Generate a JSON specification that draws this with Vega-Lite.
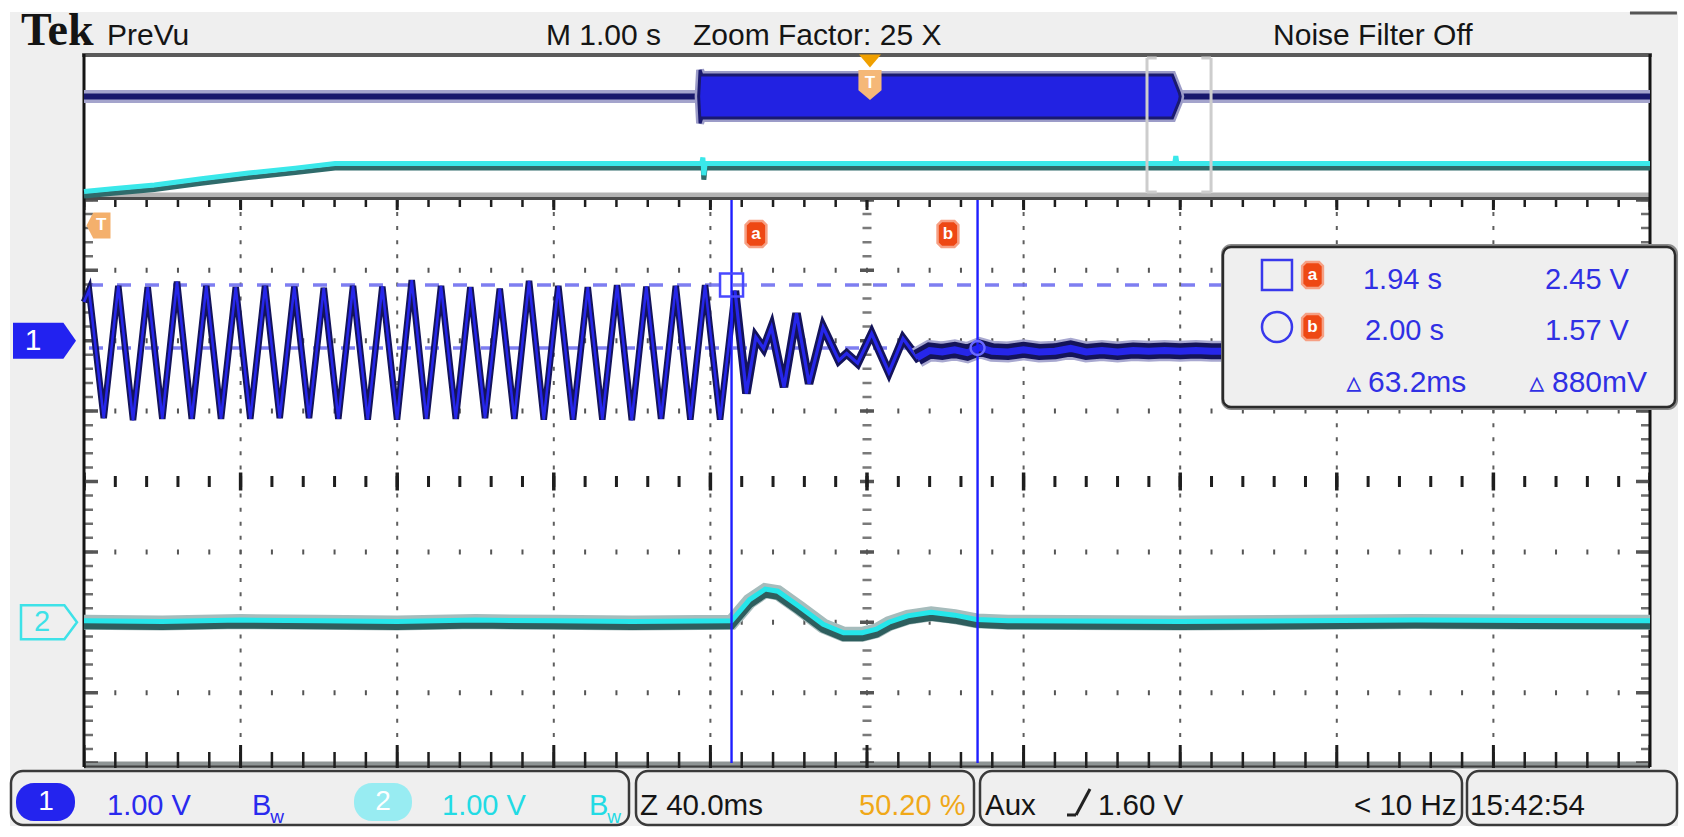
{
"$schema": "https://vega.github.io/schema/vega-lite/v6.json",
"width": 1684, "height": 837,
"autosize": {"type": "none"},
"padding": 0,
"background": "#ffffff",
"config": {"view": {"stroke": null}},
"datasets": {
"ch1": [
{"x":0.000,"y":2.55},
{"x":0.032,"y":2.72},{"x":0.126,"y":0.90},
{"x":0.219,"y":2.78},{"x":0.313,"y":0.87},
{"x":0.407,"y":2.76},{"x":0.500,"y":0.89},
{"x":0.594,"y":2.84},{"x":0.688,"y":0.89},
{"x":0.781,"y":2.78},{"x":0.875,"y":0.89},
{"x":0.969,"y":2.76},{"x":1.062,"y":0.89},
{"x":1.156,"y":2.78},{"x":1.250,"y":0.90},
{"x":1.343,"y":2.77},{"x":1.437,"y":0.90},
{"x":1.531,"y":2.75},{"x":1.624,"y":0.89},
{"x":1.718,"y":2.78},{"x":1.812,"y":0.88},
{"x":1.905,"y":2.77},{"x":1.999,"y":0.88},
{"x":2.093,"y":2.86},{"x":2.186,"y":0.89},
{"x":2.280,"y":2.78},{"x":2.374,"y":0.89},
{"x":2.467,"y":2.76},{"x":2.561,"y":0.90},
{"x":2.655,"y":2.74},{"x":2.748,"y":0.89},
{"x":2.842,"y":2.85},{"x":2.936,"y":0.88},
{"x":3.029,"y":2.78},{"x":3.123,"y":0.88},
{"x":3.217,"y":2.76},{"x":3.310,"y":0.88},
{"x":3.404,"y":2.79},{"x":3.498,"y":0.87},
{"x":3.591,"y":2.77},{"x":3.685,"y":0.89},
{"x":3.779,"y":2.78},{"x":3.872,"y":0.88},
{"x":3.966,"y":2.79},{"x":4.062,"y":0.88},
{"x":4.157,"y":2.71},
{"x":4.23,"y":1.25},{"x":4.29,"y":2.05},{"x":4.34,"y":1.89},{"x":4.39,"y":2.19},
{"x":4.47,"y":1.34},{"x":4.55,"y":2.39},{"x":4.63,"y":1.39},{"x":4.72,"y":2.19},
{"x":4.82,"y":1.72},{"x":4.87,"y":1.82},{"x":4.94,"y":1.68},{"x":5.03,"y":2.10},
{"x":5.14,"y":1.55},{"x":5.23,"y":2.03},{"x":5.32,"y":1.76},{"x":5.40,"y":1.86},
{"x":5.48,"y":1.84},{"x":5.56,"y":1.87},{"x":5.64,"y":1.83},{"x":5.72,"y":1.90},
{"x":5.80,"y":1.85},{"x":5.90,"y":1.84},{"x":6.00,"y":1.87},{"x":6.10,"y":1.84},
{"x":6.20,"y":1.85},{"x":6.30,"y":1.89},{"x":6.40,"y":1.84},{"x":6.50,"y":1.86},
{"x":6.60,"y":1.84},{"x":6.70,"y":1.86},{"x":6.80,"y":1.85},{"x":6.90,"y":1.86},
{"x":7.00,"y":1.85},{"x":7.10,"y":1.86},{"x":7.20,"y":1.85},{"x":7.30,"y":1.85},
{"x":8.00,"y":1.85},{"x":9.00,"y":1.85},{"x":10.0,"y":1.85}
],
"ch2": [
{"x":0,"y":-2.0},{"x":0.5,"y":-2.01},{"x":1.0,"y":-1.99},{"x":1.5,"y":-2.0},{"x":2.0,"y":-2.01},
{"x":2.5,"y":-1.99},{"x":3.0,"y":-2.0},{"x":3.5,"y":-2.01},{"x":4.135,"y":-2.0},
{"x":4.25,"y":-1.70},{"x":4.35,"y":-1.55},{"x":4.43,"y":-1.58},{"x":4.57,"y":-1.80},
{"x":4.72,"y":-2.05},{"x":4.85,"y":-2.17},{"x":4.97,"y":-2.17},{"x":5.06,"y":-2.12},
{"x":5.14,"y":-2.02},{"x":5.26,"y":-1.93},{"x":5.41,"y":-1.88},{"x":5.56,"y":-1.92},
{"x":5.70,"y":-1.98},{"x":5.90,"y":-2.0},{"x":7.0,"y":-2.01},{"x":8.5,"y":-1.99},{"x":10,"y":-2.0}
],
"ov2": [
{"x":0,"y":4.098},{"x":0.2,"y":4.14},{"x":0.45,"y":4.19},{"x":0.75,"y":4.28},{"x":1.05,"y":4.36},
{"x":1.35,"y":4.43},{"x":1.603,"y":4.496},{"x":3.945,"y":4.496},{"x":3.952,"y":4.58},{"x":3.958,"y":4.33},
{"x":3.966,"y":4.496},{"x":6.965,"y":4.496},{"x":6.972,"y":4.60},{"x":6.979,"y":4.496},{"x":10,"y":4.496}
],
"band": [
{"x":3.925,"y":5.469,"y2":5.469},{"x":3.934,"y":5.845,"y2":5.09},{"x":3.945,"y":5.774,"y2":5.163},
{"x":6.95,"y":5.774,"y2":5.163},{"x":6.995,"y":5.52,"y2":5.41},{"x":7.0,"y":5.469,"y2":5.469}
]
},
"encoding": {
"x": {"field": "x", "type": "quantitative", "scale": {"domain": [-0.5364, 10.21711], "nice": false, "zero": false}, "axis": null},
"y": {"field": "y", "type": "quantitative", "scale": {"domain": [-5.04972, 6.83949], "nice": false, "zero": false}, "axis": null}
},
"layer": [
{"data":{"values":[{"x":-0.4725,"x2":10.179,"y":6.669,"y2":-4.893}]},"mark":{"type":"rect","fill":"#efefef"},"encoding":{"x2":{"field":"x2"},"y2":{"field":"y2"}}},
{"data":{"values":[{"x":0,"x2":10,"y":6.058,"y2":-3.99}]},"mark":{"type":"rect","fill":"#ffffff"},"encoding":{"x2":{"field":"x2"},"y2":{"field":"y2"}}},
{"data":{"values":[{"x":0,"x2":10,"y":4.105,"y2":3.999}]},"mark":{"type":"rect","fill":"#b2b2b2"},"encoding":{"x2":{"field":"x2"},"y2":{"field":"y2"}}},
{"data":{"values":[{"x":0,"x2":10,"y":-3.977,"y2":-4.077}]},"mark":{"type":"rect","fill":"#8e9494"},"encoding":{"x2":{"field":"x2"},"y2":{"field":"y2"}}},
{"data":{"values":[{"x":-0.012,"x2":10.012,"y":6.058,"y2":6.058}]},"mark":{"type":"rule","color":"#5a5a5a","strokeWidth":4},"encoding":{"x2":{"field":"x2"},"y2":{"field":"y2"}}},
{"data":{"values":[{"x":0,"x2":10,"y":4.02,"y2":4.02}]},"mark":{"type":"rule","color":"#4a4a4a","strokeWidth":3},"encoding":{"x2":{"field":"x2"},"y2":{"field":"y2"}}},
{"data":{"values":[{"x":0,"x2":10,"y":-4.048,"y2":-4.048}]},"mark":{"type":"rule","color":"#3e3e3e","strokeWidth":2},"encoding":{"x2":{"field":"x2"},"y2":{"field":"y2"}}},
{"data":{"values":[{"x":1,"x2":1,"y":4,"y2":-4},{"x":2,"x2":2,"y":4,"y2":-4},{"x":3,"x2":3,"y":4,"y2":-4},{"x":4,"x2":4,"y":4,"y2":-4},{"x":6,"x2":6,"y":4,"y2":-4},{"x":7,"x2":7,"y":4,"y2":-4},{"x":8,"x2":8,"y":4,"y2":-4},{"x":9,"x2":9,"y":4,"y2":-4}]},"mark":{"type":"rule","color":"#5e5e5e","strokeWidth":2,"strokeDash":[4,10.08],"strokeDashOffset":2},"encoding":{"x2":{"field":"x2"},"y2":{"field":"y2"}}},
{"data":{"values":[{"x":5,"x2":5,"y":4,"y2":-4}]},"mark":{"type":"rule","color":"#7a7a7a","strokeWidth":9,"strokeDash":[2.5,11.58],"strokeDashOffset":1.25},"encoding":{"x2":{"field":"x2"},"y2":{"field":"y2"}}},
{"data":{"values":[{"x":5,"x2":5,"y":4,"y2":-4}]},"mark":{"type":"rule","color":"#555555","strokeWidth":14,"strokeDash":[3.5,66.9],"strokeDashOffset":1.75},"encoding":{"x2":{"field":"x2"},"y2":{"field":"y2"}}},
{"data":{"values":[{"x":0,"x2":10,"y":3,"y2":3},{"x":0,"x2":10,"y":2,"y2":2},{"x":0,"x2":10,"y":1,"y2":1},{"x":0,"x2":10,"y":-1,"y2":-1},{"x":0,"x2":10,"y":-2,"y2":-2},{"x":0,"x2":10,"y":-3,"y2":-3}]},"mark":{"type":"rule","color":"#555555","strokeWidth":5,"strokeDash":[2,29.32],"strokeDashOffset":1},"encoding":{"x2":{"field":"x2"},"y2":{"field":"y2"}}},
{"data":{"values":[{"x":0,"x2":10,"y":0,"y2":0}]},"mark":{"type":"rule","color":"#1e1e1e","strokeWidth":11,"strokeDash":[3,28.32],"strokeDashOffset":1.5},"encoding":{"x2":{"field":"x2"},"y2":{"field":"y2"}}},
{"data":{"values":[{"x":0,"x2":10,"y":0,"y2":0}]},"mark":{"type":"rule","color":"#1e1e1e","strokeWidth":18,"strokeDash":[3.5,153.1],"strokeDashOffset":1.75},"encoding":{"x2":{"field":"x2"},"y2":{"field":"y2"}}},
{"data":{"values":[{"x":0,"x2":10,"y":3.9489,"y2":3.9489}]},"mark":{"type":"rule","color":"#1e1e1e","strokeWidth":7,"strokeDash":[2.5,28.82],"strokeDashOffset":1.25},"encoding":{"x2":{"field":"x2"},"y2":{"field":"y2"}}},
{"data":{"values":[{"x":0,"x2":10,"y":3.9276,"y2":3.9276}]},"mark":{"type":"rule","color":"#1e1e1e","strokeWidth":10,"strokeDash":[3,153.6],"strokeDashOffset":1.5},"encoding":{"x2":{"field":"x2"},"y2":{"field":"y2"}}},
{"data":{"values":[{"x":0,"x2":10,"y":-3.956,"y2":-3.956}]},"mark":{"type":"rule","color":"#1e1e1e","strokeWidth":16,"strokeDash":[2.5,28.82],"strokeDashOffset":1.25},"encoding":{"x2":{"field":"x2"},"y2":{"field":"y2"}}},
{"data":{"values":[{"x":0,"x2":10,"y":-3.906,"y2":-3.906}]},"mark":{"type":"rule","color":"#1e1e1e","strokeWidth":23,"strokeDash":[3,153.6],"strokeDashOffset":1.5},"encoding":{"x2":{"field":"x2"},"y2":{"field":"y2"}}},
{"data":{"values":[{"x":0.0287,"x2":0.0287,"y":4,"y2":-4},{"x":9.9713,"x2":9.9713,"y":4,"y2":-4}]},"mark":{"type":"rule","color":"#6e6e6e","strokeWidth":9,"strokeDash":[2.5,11.58],"strokeDashOffset":1.25},"encoding":{"x2":{"field":"x2"},"y2":{"field":"y2"}}},
{"data":{"values":[{"x":0.0447,"x2":0.0447,"y":4,"y2":-4},{"x":9.9553,"x2":9.9553,"y":4,"y2":-4}]},"mark":{"type":"rule","color":"#555555","strokeWidth":14,"strokeDash":[3.5,66.9],"strokeDashOffset":1.75},"encoding":{"x2":{"field":"x2"},"y2":{"field":"y2"}}},
{"data":{"values":[{"x":0,"x2":0,"y":6.072,"y2":-4.055},{"x":10,"x2":10,"y":6.072,"y2":-4.055}]},"mark":{"type":"rule","color":"#141414","strokeWidth":3},"encoding":{"x2":{"field":"x2"},"y2":{"field":"y2"}}},

{"data":{"values":[{"x":0,"x2":3.934,"y":5.469,"y2":5.469},{"x":6.99,"x2":10,"y":5.469,"y2":5.469}]},"mark":{"type":"rule","color":"#a4a4cc","strokeWidth":13},"encoding":{"x2":{"field":"x2"},"y2":{"field":"y2"}}},
{"data":{"values":[{"x":0,"x2":3.934,"y":5.469,"y2":5.469},{"x":6.99,"x2":10,"y":5.469,"y2":5.469}]},"mark":{"type":"rule","color":"#18186c","strokeWidth":6},"encoding":{"x2":{"field":"x2"},"y2":{"field":"y2"}}},
{"data":{"name":"band"},"mark":{"type":"area","fill":"#9c9cc8","stroke":"#9c9cc8","strokeWidth":8,"opacity":1},"encoding":{"y2":{"field":"y2"}}},
{"data":{"name":"band"},"mark":{"type":"area","fill":"#2222e2","stroke":"#1a1a6e","strokeWidth":3,"opacity":1},"encoding":{"y2":{"field":"y2"}}},
{"data":{"name":"ov2"},"mark":{"type":"line","color":"#2f6b6b","strokeWidth":5,"yOffset":3}},
{"data":{"name":"ov2"},"mark":{"type":"line","color":"#3ae8ea","strokeWidth":5,"yOffset":-1.5}},
{"data":{"values":[{"x":6.788,"x2":6.788,"y":6.016,"y2":4.112},{"x":7.197,"x2":7.197,"y":6.016,"y2":4.112},{"x":6.788,"x2":6.85,"y":6.016,"y2":6.016},{"x":6.788,"x2":6.85,"y":4.112,"y2":4.112},{"x":7.135,"x2":7.197,"y":6.016,"y2":6.016},{"x":7.135,"x2":7.197,"y":4.112,"y2":4.112}]},"mark":{"type":"rule","color":"#cdcdcd","strokeWidth":3},"encoding":{"x2":{"field":"x2"},"y2":{"field":"y2"}}},
{"data":{"values":[{"x":5.019,"y":5.973}]},"mark":{"type":"point","shape":"M-1,-0.6L1,-0.6L0,0.6Z","size":484,"filled":true,"fill":"#f0a000","strokeWidth":0,"opacity":1}},
{"data":{"values":[{"x":5.019,"y":5.632}]},"mark":{"type":"point","shape":"M-0.77,-1L0.77,-1L0.77,0.35L0,1L-0.77,0.35Z","size":900,"filled":true,"fill":"#f5b878","strokeWidth":0,"opacity":1}},
{"data":{"values":[{"x":5.019,"y":5.66,"t":"T"}]},"mark":{"type":"text","color":"#ffffff","font":"Liberation Sans","fontWeight":"bold","fontSize":17,"align":"center","baseline":"middle"},"encoding":{"text":{"field":"t"}}},

{"data":{"values":[{"x":0,"x2":7.273,"y":2.791,"y2":2.791},{"x":0,"x2":7.273,"y":1.896,"y2":1.896}]},"mark":{"type":"rule","color":"#7070f0","strokeWidth":3.5,"strokeDash":[14,14],"strokeDashOffset":23,"opacity":0.9},"encoding":{"x2":{"field":"x2"},"y2":{"field":"y2"}}},
{"data":{"name":"ch2"},"mark":{"type":"line","color":"#a6bcbc","strokeWidth":15}},
{"data":{"name":"ch2"},"mark":{"type":"line","color":"#2e5e5e","strokeWidth":8,"yOffset":3}},
{"data":{"name":"ch2"},"mark":{"type":"line","color":"#25e6ea","strokeWidth":5,"yOffset":-1.5}},
{"data":{"name":"ch1"},"transform":[{"filter":"datum.x <= 4.16"}],"mark":{"type":"line","color":"#14145a","strokeWidth":6.5}},
{"data":{"name":"ch1"},"transform":[{"filter":"datum.x <= 4.16"}],"mark":{"type":"line","color":"#2626ea","strokeWidth":2.6}},
{"data":{"name":"ch1"},"transform":[{"filter":"datum.x >= 4.15 && datum.x <= 5.41"}],"mark":{"type":"line","color":"#14145a","strokeWidth":8.5}},
{"data":{"name":"ch1"},"transform":[{"filter":"datum.x >= 4.15 && datum.x <= 5.41"}],"mark":{"type":"line","color":"#2626ea","strokeWidth":3.2}},
{"data":{"name":"ch1"},"transform":[{"filter":"datum.x >= 5.32"}],"mark":{"type":"line","color":"#a8a8d0","strokeWidth":21}},
{"data":{"name":"ch1"},"transform":[{"filter":"datum.x >= 5.32"}],"mark":{"type":"line","color":"#14145a","strokeWidth":16}},
{"data":{"name":"ch1"},"transform":[{"filter":"datum.x >= 5.32"}],"mark":{"type":"line","color":"#2626ea","strokeWidth":7}},
{"data":{"values":[{"x":4.135,"x2":4.135,"y":4,"y2":-4},{"x":5.706,"x2":5.706,"y":4,"y2":-4}]},"mark":{"type":"rule","color":"#1e1eff","strokeWidth":2.4},"encoding":{"x2":{"field":"x2"},"y2":{"field":"y2"}}},
{"data":{"values":[{"x":4.135,"y":2.791}]},"mark":{"type":"point","shape":"square","size":529,"filled":false,"stroke":"#4848ff","strokeWidth":2.5,"opacity":1}},
{"data":{"values":[{"x":5.706,"y":1.896}]},"mark":{"type":"point","shape":"circle","size":196,"filled":false,"stroke":"#6a6aff","strokeWidth":2.5,"opacity":1}},
{"data":{"values":[{"x":0.0926,"y":3.6364}]},"mark":{"type":"point","shape":"M-0.923,0L-0.4,-1L0.923,-1L0.923,1L-0.4,1Z","size":676,"filled":true,"fill":"#f4b06c","strokeWidth":0,"opacity":1}},
{"data":{"values":[{"x":0.11,"y":3.6364,"t":"T"}]},"mark":{"type":"text","color":"#ffffff","font":"Liberation Sans","fontWeight":"bold","fontSize":17,"align":"center","baseline":"middle"},"encoding":{"text":{"field":"t"}}},
{"data":{"values":[{"x":-0.2522,"y":2.0}]},"mark":{"type":"point","shape":"M-1,-0.571L0.6,-0.571L1,0L0.6,0.571L-1,0.571Z","size":3969,"filled":true,"fill":"#2222f0","strokeWidth":0,"opacity":1}},
{"data":{"values":[{"x":-0.3257,"y":2.0,"t":"1"}]},"mark":{"type":"text","color":"#ffffff","font":"Liberation Sans","fontSize":30,"align":"center","baseline":"middle"},"encoding":{"text":{"field":"t"}}},
{"data":{"values":[{"x":-0.2235,"y":-2.0}]},"mark":{"type":"point","shape":"M-1,-0.607L0.55,-0.607L1,0L0.55,0.607L-1,0.607Z","size":3136,"filled":false,"stroke":"#3ee2e8","strokeWidth":2.5,"opacity":1}},
{"data":{"values":[{"x":-0.268,"y":-2.0,"t":"2"}]},"mark":{"type":"text","color":"#3ee2e8","font":"Liberation Sans","fontSize":29,"align":"center","baseline":"middle"},"encoding":{"text":{"field":"t"}}},

{"data":{"values":[{"x":7.261,"x2":10.179,"y":3.374,"y2":1.016}]},"mark":{"type":"rect","fill":"#8a8a8a","cornerRadius":10},"encoding":{"x2":{"field":"x2"},"y2":{"field":"y2"}}},
{"data":{"values":[{"x":7.273,"x2":10.160,"y":3.331,"y2":1.058}]},"mark":{"type":"rect","fill":"#efefef","stroke":"#2a2a2a","strokeWidth":2.5,"cornerRadius":8},"encoding":{"x2":{"field":"x2"},"y2":{"field":"y2"}}},
{"data":{"values":[{"x":7.618,"y":2.9332}]},"mark":{"type":"point","shape":"square","size":900,"filled":false,"stroke":"#3838ec","strokeWidth":2.5,"opacity":1}},
{"data":{"values":[{"x":7.618,"y":2.1946}]},"mark":{"type":"point","shape":"circle","size":900,"filled":false,"stroke":"#3838ec","strokeWidth":2.5,"opacity":1}},
{"data":{"values":[{"x":4.291,"y":3.5156},{"x":5.517,"y":3.5156},{"x":7.845,"y":2.9332},{"x":7.845,"y":2.1946}]},"mark":{"type":"point","shape":"M-0.5,-1L0.5,-1L0.8,-0.7L0.8,0.7L0.5,1L-0.5,1L-0.8,0.7L-0.8,-0.7Z","size":676,"filled":true,"fill":"#ee4814","stroke":"#f6a084","strokeWidth":2.5,"opacity":1}},
{"data":{"values":[{"x":4.291,"y":3.5156,"t":"a"},{"x":5.517,"y":3.5156,"t":"b"},{"x":7.845,"y":2.9332,"t":"a"},{"x":7.845,"y":2.1946,"t":"b"}]},"mark":{"type":"text","color":"#ffffff","font":"Liberation Sans","fontWeight":"bold","fontSize":17,"align":"center","baseline":"middle"},"encoding":{"text":{"field":"t"}}},
{"data":{"values":[{"x":8.167,"y":2.7344,"t":"1.94 s"},{"x":9.330,"y":2.7344,"t":"2.45 V"},{"x":8.180,"y":2.0099,"t":"2.00 s"},{"x":9.330,"y":2.0099,"t":"1.57 V"}]},"mark":{"type":"text","color":"#3030e4","font":"Liberation Sans, Arial, sans-serif","fontSize":29,"align":"left","baseline":"alphabetic"},"encoding":{"text":{"field":"t"}}},
{"data":{"values":[{"x":8.199,"y":1.2713,"t":"63.2ms"},{"x":9.374,"y":1.2713,"t":"880mV"}]},"mark":{"type":"text","color":"#3030e4","font":"Liberation Sans, Arial, sans-serif","fontSize":30,"align":"left","baseline":"alphabetic"},"encoding":{"text":{"field":"t"}}},
{"data":{"values":[{"x":8.060,"y":1.2713,"t":"▵"},{"x":9.229,"y":1.2713,"t":"▵"}]},"mark":{"type":"text","color":"#3030e4","font":"DejaVu Sans","fontSize":30,"align":"left","baseline":"alphabetic"},"encoding":{"text":{"field":"t"}}},

{"data":{"values":[{"x":-0.4023,"y":6.2003,"t":"Tek"}]},"mark":{"type":"text","color":"#141414","font":"Liberation Serif","fontWeight":"bold","fontSize":46,"align":"left","baseline":"alphabetic"},"encoding":{"text":{"field":"t"}}},
{"data":{"values":[{"x":0.1469,"y":6.2003,"t":"PreVu"},{"x":2.950,"y":6.2003,"t":"M 1.00 s"},{"x":3.889,"y":6.2003,"t":"Zoom Factor: 25 X"},{"x":7.593,"y":6.2003,"t":"Noise Filter Off"}]},"mark":{"type":"text","color":"#151515","font":"Liberation Sans, Arial, sans-serif","fontSize":30,"align":"left","baseline":"alphabetic"},"encoding":{"text":{"field":"t"}}},
{"data":{"values":[{"x":9.872,"x2":10.172,"y":6.6548,"y2":6.6548}]},"mark":{"type":"rule","color":"#555555","strokeWidth":3},"encoding":{"x2":{"field":"x2"},"y2":{"field":"y2"}}},

{"data":{"values":[{"x":-0.4662,"x2":3.4802,"y":-4.1122,"y2":-4.8793},{"x":3.5249,"x2":5.6833,"y":-4.1122,"y2":-4.8793},{"x":5.7216,"x2":8.7995,"y":-4.1122,"y2":-4.8793},{"x":8.8314,"x2":10.1724,"y":-4.1122,"y2":-4.8793}]},"mark":{"type":"rect","fill":"#efefef","stroke":"#3a3a3a","strokeWidth":2.5,"cornerRadius":12},"encoding":{"x2":{"field":"x2"},"y2":{"field":"y2"}}},
{"data":{"values":[{"x":-0.4342,"x2":-0.0575,"y":-4.2827,"y2":-4.8224}]},"mark":{"type":"rect","fill":"#2424ee","cornerRadius":18},"encoding":{"x2":{"field":"x2"},"y2":{"field":"y2"}}},
{"data":{"values":[{"x":1.7241,"x2":2.0945,"y":-4.2827,"y2":-4.8224}]},"mark":{"type":"rect","fill":"#98ecf2","cornerRadius":18},"encoding":{"x2":{"field":"x2"},"y2":{"field":"y2"}}},
{"data":{"values":[{"x":-0.2427,"y":-4.5526,"t":"1"},{"x":1.9093,"y":-4.5526,"t":"2"}]},"mark":{"type":"text","color":"#ffffff","font":"Liberation Sans","fontSize":28,"align":"center","baseline":"middle"},"encoding":{"text":{"field":"t"}}},
{"data":{"values":[{"x":0.1469,"y":-4.7372,"t":"1.00 V"},{"x":1.0728,"y":-4.7372,"t":"B"}]},"mark":{"type":"text","color":"#2a2aee","font":"Liberation Sans, Arial, sans-serif","fontSize":29,"align":"left","baseline":"alphabetic"},"encoding":{"text":{"field":"t"}}},
{"data":{"values":[{"x":1.19,"y":-4.8509,"t":"w"}]},"mark":{"type":"text","color":"#2a2aee","font":"Liberation Sans, Arial, sans-serif","fontSize":19,"align":"left","baseline":"alphabetic"},"encoding":{"text":{"field":"t"}}},
{"data":{"values":[{"x":2.2861,"y":-4.7372,"t":"1.00 V"},{"x":3.2248,"y":-4.7372,"t":"B"}]},"mark":{"type":"text","color":"#22dbe4","font":"Liberation Sans, Arial, sans-serif","fontSize":29,"align":"left","baseline":"alphabetic"},"encoding":{"text":{"field":"t"}}},
{"data":{"values":[{"x":3.342,"y":-4.8509,"t":"w"}]},"mark":{"type":"text","color":"#22dbe4","font":"Liberation Sans, Arial, sans-serif","fontSize":19,"align":"left","baseline":"alphabetic"},"encoding":{"text":{"field":"t"}}},
{"data":{"values":[{"x":3.5504,"y":-4.7372,"t":"Z 40.0ms"},{"x":5.7535,"y":-4.7372,"t":"Aux"},{"x":6.4751,"y":-4.7372,"t":"1.60 V"},{"x":8.1098,"y":-4.7372,"t":"< 10 Hz"},{"x":8.8506,"y":-4.7372,"t":"15:42:54"}]},"mark":{"type":"text","color":"#151515","font":"Liberation Sans, Arial, sans-serif","fontSize":29.5,"align":"left","baseline":"alphabetic"},"encoding":{"text":{"field":"t"}}},
{"data":{"values":[{"x":4.9489,"y":-4.7372,"t":"50.20 %"}]},"mark":{"type":"text","color":"#f0a818","font":"Liberation Sans, Arial, sans-serif","fontSize":29,"align":"left","baseline":"alphabetic"},"encoding":{"text":{"field":"t"}}},
{"data":{"values":[{"x":6.277,"x2":6.335,"y":-4.737,"y2":-4.737},{"x":6.335,"x2":6.424,"y":-4.737,"y2":-4.368}]},"mark":{"type":"rule","color":"#222222","strokeWidth":3},"encoding":{"x2":{"field":"x2"},"y2":{"field":"y2"}}}
]
}
